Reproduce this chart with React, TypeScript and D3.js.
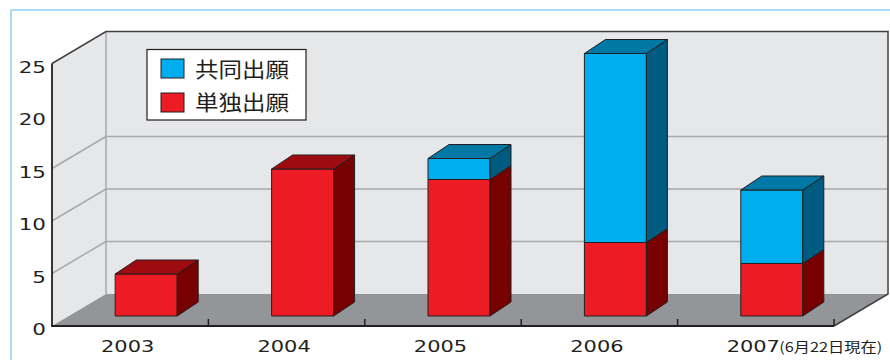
import React from 'react';
import * as d3 from 'd3';

const years = ['2003', '2004', '2005', '2006', '2007'];
const singleApps = [4, 14, 13, 7, 5]; // 単独出願
const jointApps = [0, 0, 2, 18, 7]; // 共同出願
const yTicks = [0, 5, 10, 15, 20, 25];
const gridTicks = [5, 10, 15];
const legendLabels = ['共同出願', '単独出願'];
const lastNote = '(6月22日現在)';

const W = 890;
const H = 360;
const X0 = 52;
const X1 = 834;
const DX = 54; // wall depth
const DY = -32;
const BAR_W = 62;
const BAR_OFF_X = 16;
const BAR_OFF_Y = -10;
const BAR_DX = 21;
const BAR_DY = -14;

const RED = { front: '#ed1c24', top: '#9e0b10', side: '#770000' };
const BLUE = { front: '#00aeef', top: '#0078a6', side: '#005b80' };
const DARK = '#231f20';

export default function App() {
  const x = d3.scaleBand<string>().domain(years).range([X0, X1]).paddingInner(0).paddingOuter(0);
  const y = d3.scaleLinear().domain([0, 25]).range([326, 63.5]);
  const bw = x.bandwidth();
  const y0 = y(0);
  const yTop = y(25);

  const bars: React.ReactNode[] = [];
  years.forEach((yr, i) => {
    const left = (x(yr) as number) + (bw - BAR_W) / 2 + BAR_OFF_X;
    const right = left + BAR_W;
    const segs = [
      { v0: 0, v1: singleApps[i], c: RED },
      { v0: singleApps[i], v1: singleApps[i] + jointApps[i], c: BLUE },
    ].filter((s) => s.v1 > s.v0);
    segs.forEach((s, j) => {
      const yb = y(s.v0) + BAR_OFF_Y;
      const yt = y(s.v1) + BAR_OFF_Y;
      const isTop = j === segs.length - 1;
      bars.push(
        <g key={`${yr}-${j}`} stroke={DARK} strokeWidth={1} strokeLinejoin="round">
          <rect x={left} y={yt} width={BAR_W} height={yb - yt} fill={s.c.front} />
          <polygon
            points={`${right},${yt} ${right + BAR_DX},${yt + BAR_DY} ${right + BAR_DX},${yb + BAR_DY} ${right},${yb}`}
            fill={s.c.side}
          />
          {isTop && (
            <polygon
              points={`${left},${yt} ${left + BAR_DX},${yt + BAR_DY} ${right + BAR_DX},${yt + BAR_DY} ${right},${yt}`}
              fill={s.c.top}
            />
          )}
        </g>
      );
    });
  });

  const boundaries = years.map((yr) => (x(yr) as number) + bw);

  return (
    <svg
      width={W}
      height={H}
      style={{ position: 'absolute', left: 0, top: 0, background: '#fff' }}
      fontFamily="'DejaVu Sans', sans-serif"
    >
      {/* frame */}
      <line x1={11} y1={10} x2={W} y2={10} stroke="#a9dcf4" strokeWidth={2} />
      <line x1={11} y1={10} x2={11} y2={H} stroke="#a9dcf4" strokeWidth={2} />

      {/* side wall */}
      <polygon
        points={`${X0},${y0} ${X0 + DX},${y0 + DY} ${X0 + DX},${yTop + DY} ${X0},${yTop}`}
        fill="#e6e7e8"
      />
      {/* back wall */}
      <rect x={X0 + DX} y={yTop + DY} width={X1 + DX - (X0 + DX)} height={y0 - yTop} fill="#e6e7e8" />
      {/* floor */}
      <polygon
        points={`${X0},${y0} ${X1},${y0} ${X1 + DX},${y0 + DY} ${X0 + DX},${y0 + DY}`}
        fill="#939598"
      />

      {/* grid lines */}
      {gridTicks.map((t) => (
        <g key={t} stroke="#a7a9ac" strokeWidth={1.5}>
          <line x1={X0} y1={y(t)} x2={X0 + DX} y2={y(t) + DY} />
          <line x1={X0 + DX} y1={y(t) + DY} x2={X1 + DX} y2={y(t) + DY} />
        </g>
      ))}
      <line x1={X0 + DX} y1={yTop + DY} x2={X0 + DX} y2={y0 + DY} stroke="#a7a9ac" strokeWidth={1.5} />

      {/* outline */}
      <polyline
        points={`${X0},${yTop} ${X0 + DX},${yTop + DY} ${X1 + DX},${yTop + DY} ${X1 + DX},${y0 + DY} ${X1},${y0}`}
        fill="none"
        stroke="#414042"
        strokeWidth={1.5}
      />
      <polyline
        points={`${X0},${yTop} ${X0},${y0} ${X1},${y0}`}
        fill="none"
        stroke={DARK}
        strokeWidth={1.8}
      />
      {boundaries.map((bx, i) => (
        <line key={i} x1={bx} y1={y0} x2={bx} y2={y0 - 7} stroke={DARK} strokeWidth={1.5} />
      ))}

      {/* bars */}
      {bars}

      {/* y labels */}
      {yTicks.map((t) => (
        <g key={t} transform={`translate(46,${y(t) + 9}) scale(1.3,1)`}>
          <text textAnchor="end" fontSize={16.5} fill={DARK}>
            {t}
          </text>
        </g>
      ))}

      {/* x labels */}
      {years.map((yr, i) => {
        const cx = (x(yr) as number) + bw / 2 - 2.5;
        return (
          <g key={yr}>
            <g transform={`translate(${cx},352) scale(1.27,1)`}>
              <text textAnchor="middle" fontSize={16.5} fill={DARK}>
                {yr}
              </text>
            </g>
            {i === years.length - 1 && (
              <text
                x={cx + 26}
                y={352}
                fontSize={13.5}
                fill={DARK}
                fontFamily="'Noto Sans CJK JP', sans-serif"
                textLength={103}
                lengthAdjust="spacingAndGlyphs"
              >
                {lastNote}
              </text>
            )}
          </g>
        );
      })}

      {/* legend */}
      <rect x={147} y={49.5} width={159} height={70.5} fill="#fff" stroke={DARK} strokeWidth={1.2} />
      {legendLabels.map((lab, i) => {
        const c = i === 0 ? BLUE : RED;
        const sy = 59 + i * 34;
        return (
          <g key={lab}>
            <rect x={161} y={sy} width={23} height={19} fill={c.front} stroke={DARK} strokeWidth={1} />
            <g transform={`translate(195,${76.5 + i * 33}) scale(1.12,1)`}>
              <text fontSize={21} fill={DARK} fontFamily="'Noto Sans CJK JP', sans-serif">
                {lab}
              </text>
            </g>
          </g>
        );
      })}
    </svg>
  );
}
